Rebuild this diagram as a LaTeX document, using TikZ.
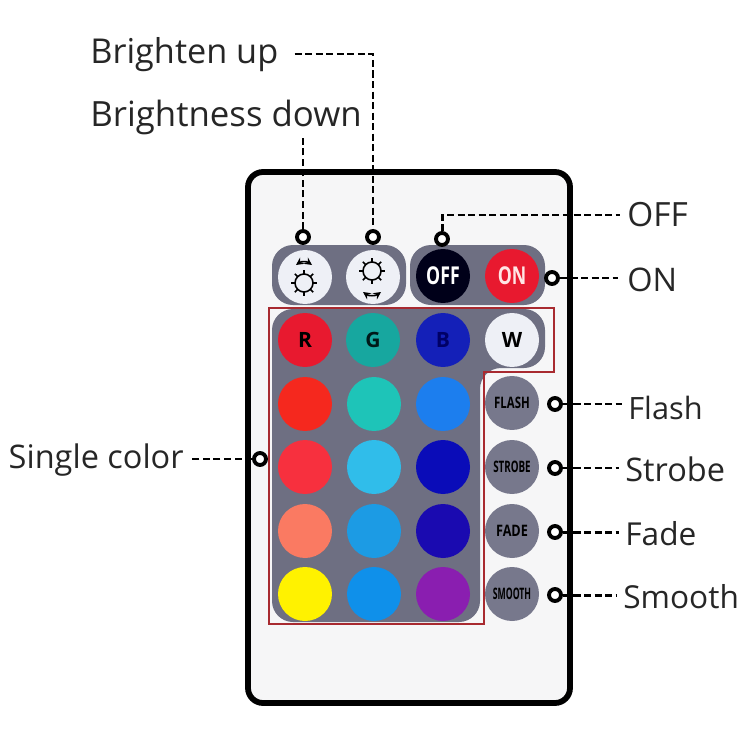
\documentclass[tikz,border=0pt]{standalone}
\usepackage{fontspec}
\usepackage{graphicx}
\setmainfont{Open Sans}
\definecolor{panelgray}{HTML}{6E6F82}
\definecolor{keygray}{HTML}{77788C}
\definecolor{bodywhite}{HTML}{F6F6F7}
\definecolor{keywhite}{HTML}{EEF0F6}
\definecolor{framered}{HTML}{A82A30}
\definecolor{onred}{HTML}{E8192F}
\tikzset{
    key/.style={circle,minimum size=1.08cm,inner sep=0pt,fill=#1},
    keytext/.style={font=\fontsize{#1}{#1}\selectfont\bfseries},
    ring/.style={circle,draw=black,fill=white,line width=2.2pt,minimum size=0.24cm,inner sep=0pt},
    callout/.style={font=\fontsize{#1}{22}\selectfont,text=black!85,inner sep=0pt},
    callout/.default=18.5,
    lead/.style={draw=black,line width=1.7pt,dash pattern=on 4pt off 2pt},
    sun/.pic={
            \draw[line width=0.9pt,fill=keywhite](0,0)circle(9);
            \foreach \a in {0,45,...,315}
            \draw[line width=0.9pt](\a:9)--(\a:13);
        }
}
\begin{document}
\begin{tikzpicture}[x=0.02cm,y=-0.02cm]
    \useasboundingbox (0,0) rectangle (750,750);
    % remote body and panels
    \draw[line width=3.3pt,fill=bodywhite,rounded corners=0.3cm](248,172)rectangle(570,703);
    \fill[panelgray,rounded corners=0.42cm](272,245)rectangle(406,305);
    \fill[panelgray,rounded corners=0.42cm](410,245)rectangle(545,305);
    \fill[panelgray,rounded corners=0.42cm](272,309)--(545,309)--(545,368)--(480,368)--(480,622)--(272,622)--cycle;
    \draw[framered,line width=0.9pt](269,308)--(554,308)--(554,372)--(484,372)--(484,624)--(269,624)--cycle;
    % top row
    \node[key=keywhite] (down) at (305,277) {};
    \node[key=keywhite] (up) at (373,277) {};
    \node[key=black!90!blue] (off) at (443,276) {\scalebox{0.72}[1]{\textcolor{white}{\fontsize{14}{14}\selectfont\bfseries OFF}}};
    \node[key=onred] (on) at (512,276) {\scalebox{0.72}[1]{\textcolor{white!90!red}{\fontsize{14}{14}\selectfont\bfseries ON}}};
    \pic at (304,283) {sun};
    \pic at (372,271) {sun};
    \draw[line width=0.9pt,<->,>=stealth](296,265)to[bend left=35](312,265);
    \draw[line width=0.9pt,<->,>=stealth](363,292)to[bend right=35](381,292);
    % colour keys
    \foreach \n/\x/\y/\c in {
        a/305/404/F5281E, b/374/404/1EC4B8, c/443/404/1C7EEE,
        d/305/467/F7303E, e/374/467/30BDEA, f/443/467/0A0CB8,
        g/305/531/FA7A62, h/374/531/1C9BE4, i/443/531/1A0AB0,
        j/305/594/FFF200, k/374/594/0F90EA, l/443/594/8A1EB0}{
        \definecolor{tmpkey}{HTML}{\c}
        \node[key=tmpkey] (\n) at (\x,\y) {};
    }
    \node[key=onred,keytext=12] (r) at (305,340) {R};
    \definecolor{tmpkey}{HTML}{17A79F}
    \node[key=tmpkey,keytext=12,text=black!80!teal] (gr) at (373,340) {G};
    \definecolor{tmpkey}{HTML}{1420B8}
    \node[key=tmpkey,keytext=12,text=black!60!blue] (bl) at (443,340) {B};
    \node[key=keywhite,keytext=12] (wh) at (512,340) {W};
    % mode keys
    \node[key=keygray] (flash) at (512,403) {\scalebox{0.72}[1]{\fontsize{9}{9}\selectfont\bfseries FLASH}};
    \node[key=keygray] (strobe) at (512,467) {\scalebox{0.62}[1]{\fontsize{9}{9}\selectfont\bfseries STROBE}};
    \node[key=keygray] (fade) at (512,531) {\scalebox{0.8}[1]{\fontsize{9}{9}\selectfont\bfseries FADE}};
    \node[key=keygray] (smooth) at (512,594) {\scalebox{0.55}[1]{\fontsize{9}{9}\selectfont\bfseries SMOOTH}};
    % labels
    \node[callout=19.5,anchor=west] (tup) at (90,55) {Brighten up};
    \node[callout=19.8,anchor=west] (tdown) at (90,117) {Brightness down};
    \node[callout=19,anchor=west] (toff) at (627,215) {OFF};
    \node[callout,anchor=west] (ton) at (627,280) {ON};
    \node[callout=17.5,anchor=west] (tflash) at (628,408) {Flash};
    \node[callout,anchor=west] (tstrobe) at (625,469) {Strobe};
    \node[callout=18,anchor=west] (tfade) at (625,534) {Fade};
    \node[callout=18,anchor=west] (tsmooth) at (623,597) {Smooth};
    \node[callout,anchor=east] (tsingle) at (184,460) {Single color};
    % callout rings
    \node[ring] (rdown) at (303,237) {};
    \node[ring] (rup) at (373,237) {};
    \node[ring] (roff) at (442,239) {};
    \node[ring] (ron) at (552,278) {};
    \node[ring] (rflash) at (555,404) {};
    \node[ring] (rstrobe) at (555,468) {};
    \node[ring] (rfade) at (555,532) {};
    \node[ring] (rsmooth) at (555,595) {};
    \node[ring] (rsingle) at (260,459) {};
    % leads
    \draw[lead](tup.east)++(16,-1)-|(rup);
    \draw[lead](rdown)--(rdown|-tdown.south);
    \draw[lead](roff)|-([xshift=-4pt]toff.west);
    \draw[lead](ron)--([xshift=-5pt]ton.west|-ron);
    \draw[lead](rflash)--([xshift=-3.4pt]tflash.west|-rflash);
    \draw[lead](rstrobe)--([xshift=-3.4pt]tstrobe.west|-rstrobe);
    \draw[lead](rfade)--([xshift=-3.4pt]tfade.west|-rfade);
    \draw[lead](rsmooth)--([xshift=-4pt]tsmooth.west|-rsmooth);
    \draw[lead](rsingle)--(192,459);
\end{tikzpicture}
\end{document}
